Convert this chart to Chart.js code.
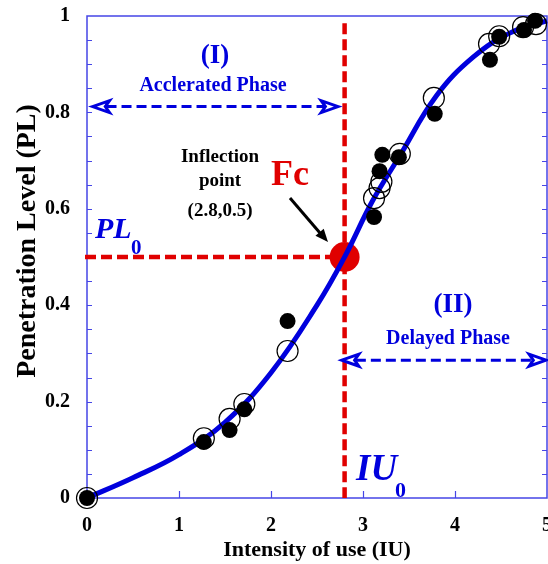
<!DOCTYPE html>
<html>
<head>
<meta charset="utf-8">
<script src="https://cdn.jsdelivr.net/npm/chart.js@4/dist/chart.umd.min.js"></script>
<style>
  html, body { margin: 0; padding: 0; background: #fff; }
  #wrap { width: 548px; height: 564px; }
</style>
</head>
<body>
<div id="wrap"><canvas id="diffusionChart"></canvas></div>
<script>
// fitted curve
const curveX = [0, 0.5, 1, 1.5, 2, 2.5, 2.8, 3.1, 3.4, 3.8, 4.2, 4.6, 5];
const curveY = [0, 0.042, 0.09, 0.157, 0.26, 0.40, 0.50, 0.615, 0.71, 0.835, 0.915, 0.965, 0.99];

// open circles
const openX = [0, 1.27, 1.55, 1.71, 2.18, 3.12, 3.18, 3.20, 3.40, 3.77, 4.37, 4.48, 4.74, 4.88];
const openY = [0, 0.124, 0.164, 0.195, 0.305, 0.622, 0.643, 0.656, 0.714, 0.83, 0.942, 0.958, 0.977, 0.983];

// filled circles
const filledX = [0, 1.27, 1.55, 1.71, 2.18, 3.12, 3.18, 3.21, 3.39, 3.78, 4.38, 4.48, 4.75, 4.87];
const filledY = [0, 0.116, 0.141, 0.184, 0.367, 0.583, 0.678, 0.712, 0.707, 0.797, 0.909, 0.957, 0.971, 0.99];

const xTickLabels = ['0', '1', '2', '3', '4', '5'];
const yTickLabels = ['0', '0.2', '0.4', '0.6', '0.8', '1'];

// inflection point
const inflection = { x: 2.8, y: 0.5 };

const serif = "'Liberation Serif', 'Times New Roman', serif";
const blue = '#0000dd';
const red = '#e00000';

const toPoints = (xs, ys) => xs.map((x, i) => ({ x: x, y: ys[i] }));

function arrowHead(ctx, tipX, tipY, dir) {
    const len = 17, half = 6;
    ctx.save();
    ctx.setLineDash([]);
    ctx.lineWidth = 3;
    ctx.lineJoin = 'miter';
    ctx.beginPath();
    ctx.moveTo(tipX, tipY);
    ctx.lineTo(tipX + dir * len, tipY - half);
    ctx.lineTo(tipX + dir * len * 0.75, tipY);
    ctx.lineTo(tipX + dir * len, tipY + half);
    ctx.closePath();
    ctx.fillStyle = '#fff';
    ctx.fill();
    ctx.stroke();
    ctx.restore();
}

function doubleArrow(ctx, x1, x2, y) {
    ctx.save();
    ctx.strokeStyle = blue;
    ctx.lineWidth = 3;
    ctx.setLineDash([10, 5]);
    ctx.beginPath();
    ctx.moveTo(x1 + 14, y);
    ctx.lineTo(x2 - 14, y);
    ctx.stroke();
    arrowHead(ctx, x1, y, 1);
    arrowHead(ctx, x2, y, -1);
    ctx.restore();
}

const decor = {
    id: 'decor',
    beforeDatasetsDraw(chart) {
        const ctx = chart.ctx;
        const a = chart.chartArea;
        const xs = chart.scales.x, ys = chart.scales.y;
        ctx.save();
        // frame
        ctx.strokeStyle = '#4646e6';
        ctx.lineWidth = 1.5;
        ctx.strokeRect(a.left, a.top, a.right - a.left, a.bottom - a.top);
        // inward ticks
        ctx.lineWidth = 1.2;
        ctx.beginPath();
        for (let v = 0.05; v < 1; v += 0.05) {
            const py = Math.round(ys.getPixelForValue(v)) + 0.5;
            ctx.moveTo(a.left, py); ctx.lineTo(a.left + 5, py);
            ctx.moveTo(a.right, py); ctx.lineTo(a.right - 5, py);
        }
        xs.ticks.forEach(t => {
            if (t.value <= 0 || t.value >= 5) return;
            const px = Math.round(xs.getPixelForValue(t.value)) + 0.5;
            ctx.moveTo(px, a.bottom); ctx.lineTo(px, a.bottom - 7);
        });
        ctx.stroke();

        // y axis title
        ctx.save();
        ctx.translate(35, 241);
        ctx.rotate(-Math.PI / 2);
        ctx.fillStyle = '#000';
        ctx.textAlign = 'center';
        ctx.textBaseline = 'alphabetic';
        ctx.font = 'bold 28px ' + serif;
        ctx.fillText('Penetration Level (PL)', 0, 0);
        ctx.restore();

        // red guide lines through the inflection point
        const fx = xs.getPixelForValue(inflection.x);
        const fy = ys.getPixelForValue(inflection.y);
        ctx.strokeStyle = red;
        ctx.lineWidth = 4.5;
        ctx.setLineDash([11, 5]);
        ctx.beginPath();
        ctx.moveTo(fx, ys.getPixelForValue(0.985));
        ctx.lineTo(fx, a.bottom);
        ctx.stroke();
        ctx.beginPath();
        ctx.moveTo(xs.getPixelForValue(0) - 2, fy);
        ctx.lineTo(fx, fy);
        ctx.stroke();
        ctx.setLineDash([]);
        ctx.fillStyle = red;
        ctx.beginPath();
        ctx.arc(fx, fy, 15, 0, Math.PI * 2);
        ctx.fill();
        ctx.restore();
    },
    afterDatasetsDraw(chart) {
        const ctx = chart.ctx;
        const xs = chart.scales.x, ys = chart.scales.y;
        ctx.save();

        // phase arrows
        doubleArrow(ctx, xs.getPixelForValue(0.06), xs.getPixelForValue(2.73), ys.getPixelForValue(0.812));
        doubleArrow(ctx, xs.getPixelForValue(2.77), xs.getPixelForValue(4.99), ys.getPixelForValue(0.286));

        ctx.textAlign = 'center';
        ctx.textBaseline = 'alphabetic';
        ctx.fillStyle = blue;
        ctx.font = 'bold 27px ' + serif;
        ctx.fillText('(I)', 215, 63);
        ctx.fillText('(II)', 453, 312);
        ctx.font = 'bold 20px ' + serif;
        ctx.fillText('Acclerated Phase', 213, 91);
        ctx.fillText('Delayed Phase', 448, 344);

        ctx.fillStyle = '#000';
        ctx.font = 'bold 19px ' + serif;
        ctx.fillText('Inflection', 220, 162);
        ctx.fillText('point', 220, 186);
        ctx.fillText('(2.8,0.5)', 220, 216);

        // black arrow to Fc
        ctx.strokeStyle = '#000';
        ctx.lineWidth = 3;
        ctx.beginPath();
        ctx.moveTo(290, 198);
        ctx.lineTo(320, 233);
        ctx.stroke();
        const ang = Math.atan2(242 - 198, 328 - 290);
        ctx.beginPath();
        ctx.moveTo(328, 242);
        ctx.lineTo(328 - 14 * Math.cos(ang - 0.4), 242 - 14 * Math.sin(ang - 0.4));
        ctx.lineTo(328 - 14 * Math.cos(ang + 0.4), 242 - 14 * Math.sin(ang + 0.4));
        ctx.closePath();
        ctx.fillStyle = '#000';
        ctx.fill();

        ctx.textAlign = 'left';
        ctx.fillStyle = red;
        ctx.font = 'bold 36px ' + serif;
        ctx.fillText('Fc', 271, 185);

        ctx.fillStyle = blue;
        ctx.font = 'italic bold 30px ' + serif;
        ctx.fillText('PL', 95, 238);
        ctx.font = 'bold 21px ' + serif;
        ctx.fillText('0', 131, 254);

        ctx.font = 'italic bold 37px ' + serif;
        ctx.fillText('IU', 356, 480);
        ctx.font = 'bold 22px ' + serif;
        ctx.fillText('0', 395, 497);
        ctx.restore();
    }
};

const ctxDiff = document.getElementById('diffusionChart').getContext('2d');
const diffusionChart = new Chart(ctxDiff, {
    type: 'scatter',
    data: {
        datasets: [{
            label: 'Filled',
            data: toPoints(filledX, filledY),
            backgroundColor: '#000',
            borderColor: '#000',
            borderWidth: 0,
            pointRadius: 8,
            clip: false,
            order: 0
        }, {
            label: 'Open',
            data: toPoints(openX, openY),
            backgroundColor: 'rgba(0,0,0,0)',
            borderColor: '#000',
            borderWidth: 1.2,
            pointRadius: 10.5,
            clip: false,
            order: 1
        }, {
            label: 'Fit',
            type: 'line',
            data: toPoints(curveX, curveY),
            borderColor: blue,
            borderWidth: 5,
            pointRadius: 0,
            fill: false,
            tension: 0.4,
            clip: false,
            order: 2
        }]
    },
    options: {
        responsive: true,
        maintainAspectRatio: false,
        animation: false,
        layout: { autoPadding: false, padding: { top: 16, right: 1, left: 0, bottom: 0 } },
        plugins: {
            legend: { display: false },
            tooltip: { enabled: false }
        },
        scales: {
            x: {
                type: 'linear',
                min: 0,
                max: 5,
                grid: { display: false },
                border: { display: false },
                ticks: {
                    stepSize: 1,
                    padding: 8,
                    color: '#000',
                    maxRotation: 0,
                    font: { family: serif, size: 20, weight: 'bold' },
                    callback: (v, i) => xTickLabels[i]
                },
                title: {
                    display: true,
                    text: 'Intensity of use (IU)',
                    color: '#000',
                    font: { family: serif, size: 22, weight: 'bold' },
                    padding: { top: 0, bottom: 0 }
                },
                afterFit(s) { s.height = 66; s.paddingLeft = 0; s.paddingRight = 0; }
            },
            y: {
                min: 0,
                max: 1,
                grid: { display: false },
                border: { display: false },
                ticks: {
                    stepSize: 0.2,
                    padding: 9,
                    color: '#000',
                    font: { family: serif, size: 20, weight: 'bold' },
                    callback: (v, i) => yTickLabels[i]
                },
                afterFit(s) { s.width = 87; s.paddingTop = 0; s.paddingBottom = 0; }
            }
        }
    },
    plugins: [decor]
});
</script>
</body>
</html>
